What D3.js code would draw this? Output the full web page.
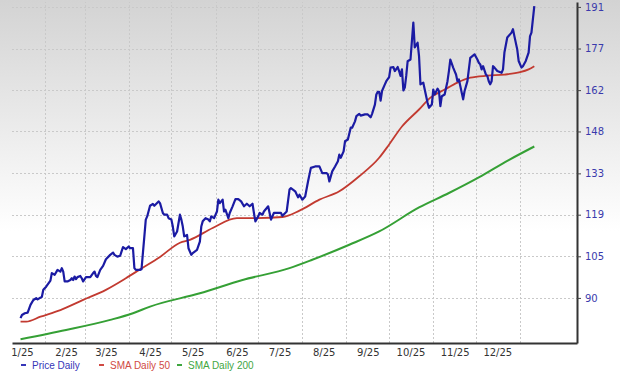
<!DOCTYPE html>
<html>
<head>
<meta charset="utf-8">
<script src="https://d3js.org/d3.v7.min.js"></script>
<style>
  body { margin: 0; background: #fff; }
  svg { display: block; }
  .grid line { stroke: #c9c9c9; stroke-dasharray: 2,2; shape-rendering: crispEdges; }
  .grid .domain { display: none; }
</style>
</head>
<body>
<div id="chart"></div>
<script>
// price, daily close
const priceDates = [
  "2025-01-15","2025-01-16","2025-01-18","2025-01-20","2025-01-22","2025-01-24","2025-01-26","2025-01-27","2025-01-30","2025-01-31",
  "2025-02-02","2025-02-05","2025-02-06","2025-02-08","2025-02-10","2025-02-12","2025-02-13","2025-02-14","2025-02-15","2025-02-17",
  "2025-02-19","2025-02-20","2025-02-21","2025-02-22","2025-02-23","2025-02-24","2025-02-26","2025-02-27","2025-02-28","2025-03-02",
  "2025-03-05","2025-03-07","2025-03-08","2025-03-09","2025-03-10","2025-03-12","2025-03-14","2025-03-16","2025-03-19","2025-03-21",
  "2025-03-22","2025-03-24","2025-03-26","2025-03-27","2025-03-28","2025-03-30","2025-04-01","2025-04-02","2025-04-04","2025-04-05",
  "2025-04-06","2025-04-09","2025-04-10","2025-04-12","2025-04-13","2025-04-14","2025-04-16","2025-04-18","2025-04-19","2025-04-22",
  "2025-04-23","2025-04-25","2025-04-26","2025-04-28","2025-04-29","2025-05-01","2025-05-02","2025-05-03","2025-05-05","2025-05-07",
  "2025-05-08","2025-05-09","2025-05-10","2025-05-12","2025-05-13","2025-05-15","2025-05-16","2025-05-19","2025-05-21","2025-05-22",
  "2025-05-23","2025-05-25","2025-05-27","2025-05-28","2025-05-29","2025-05-31","2025-06-02","2025-06-03","2025-06-04","2025-06-06",
  "2025-06-07","2025-06-08","2025-06-10","2025-06-11","2025-06-13","2025-06-15","2025-06-17","2025-06-19","2025-06-21","2025-06-23",
  "2025-06-25","2025-06-27","2025-06-28","2025-06-29","2025-07-01","2025-07-02","2025-07-04","2025-07-05","2025-07-08","2025-07-09",
  "2025-07-10","2025-07-12","2025-07-14","2025-07-17","2025-07-18","2025-07-20","2025-07-21","2025-07-23","2025-07-24","2025-07-27",
  "2025-07-29","2025-07-30","2025-08-01","2025-08-03","2025-08-05","2025-08-07","2025-08-10","2025-08-13","2025-08-15","2025-08-18",
  "2025-08-19","2025-08-20","2025-08-22","2025-08-24","2025-08-26","2025-08-27","2025-08-28","2025-08-30","2025-08-31","2025-09-02",
  "2025-09-04","2025-09-05","2025-09-07","2025-09-08","2025-09-10","2025-09-11","2025-09-14","2025-09-16","2025-09-18","2025-09-19",
  "2025-09-21","2025-09-22","2025-09-23","2025-09-24","2025-09-25","2025-09-26","2025-09-28","2025-09-29","2025-10-01","2025-10-02",
  "2025-10-04","2025-10-05","2025-10-07","2025-10-08","2025-10-09","2025-10-10","2025-10-11","2025-10-12","2025-10-13","2025-10-14",
  "2025-10-16","2025-10-18","2025-10-19","2025-10-21","2025-10-22","2025-10-23","2025-10-25","2025-10-26","2025-10-28","2025-10-29",
  "2025-10-31","2025-11-01","2025-11-02","2025-11-04","2025-11-05","2025-11-06","2025-11-07","2025-11-09","2025-11-11","2025-11-12",
  "2025-11-13","2025-11-15","2025-11-16","2025-11-17","2025-11-18","2025-11-19","2025-11-20","2025-11-22","2025-11-23","2025-11-24",
  "2025-11-25","2025-11-26","2025-11-27","2025-11-30","2025-12-02","2025-12-03","2025-12-04","2025-12-05","2025-12-06","2025-12-08",
  "2025-12-09","2025-12-10","2025-12-11","2025-12-12","2025-12-13","2025-12-14","2025-12-16","2025-12-19","2025-12-20","2025-12-21",
  "2025-12-23","2025-12-26","2025-12-27","2025-12-28","2025-12-30","2025-12-31","2026-01-02","2026-01-03","2026-01-05","2026-01-07",
  "2026-01-08","2026-01-09","2026-01-11"
];
const priceValues = [
  83.3, 84.4, 85.0, 85.2, 87.9, 89.6, 90.2, 89.8, 90.7, 93.1,
  94.2, 96.3, 98.9, 98.3, 100.0, 99.4, 100.6, 99.4, 96.0, 96.0,
  96.5, 97.1, 96.5, 97.7, 96.8, 97.5, 97.9, 97.1, 96.0, 97.5,
  97.5, 98.9, 99.4, 97.9, 97.5, 100.0, 101.4, 103.7, 105.2, 106.0,
  105.2, 104.6, 104.9, 106.4, 107.9, 107.2, 108.1, 107.5, 107.5, 100.6,
  100.0, 100.0, 100.2, 111.6, 117.4, 118.5, 122.2, 122.8, 122.2, 123.7,
  123.1, 119.7, 119.1, 119.1, 117.9, 117.4, 115.0, 111.6, 113.3, 119.1,
  117.4, 115.0, 111.6, 112.1, 107.5, 105.2, 105.8, 106.9, 109.8, 115.0,
  116.8, 117.9, 117.4, 116.8, 118.5, 117.9, 120.2, 124.3, 123.1, 124.3,
  120.2, 120.8, 117.9, 119.7, 122.0, 124.5, 124.5, 123.7, 122.0, 122.9,
  122.0, 122.9, 119.7, 116.8, 118.5, 119.7, 119.1, 120.2, 122.0, 119.7,
  117.4, 119.7, 119.7, 119.7, 118.7, 119.7, 120.2, 127.8, 128.3, 127.2,
  125.1, 126.0, 124.3, 125.4, 130.6, 135.3, 135.8, 135.8, 133.5, 133.5,
  133.0, 130.6, 134.1, 135.8, 137.6, 139.9, 138.8, 141.0, 144.5, 145.1,
  149.2, 149.2, 151.4, 153.2, 154.0, 153.4, 153.8, 153.8, 152.8, 154.0,
  157.2, 160.7, 161.6, 161.6, 158.6, 161.9, 164.2, 165.3, 166.7, 170.0,
  170.2, 168.8, 170.2, 168.8, 167.1, 169.4, 162.1, 163.1, 167.1, 172.2,
  172.8, 185.6, 177.0, 178.6, 174.0, 164.2, 164.8, 162.4, 157.8, 156.1,
  157.2, 162.4, 160.7, 162.7, 161.9, 156.7, 160.1, 160.7, 165.3, 168.8,
  172.8, 170.0, 168.8, 167.6, 165.3, 165.9, 163.6, 159.0, 161.9, 163.6,
  165.3, 169.4, 173.4, 174.6, 172.8, 171.7, 171.1, 169.4, 170.5, 167.6,
  167.1, 165.3, 164.2, 165.3, 170.5, 170.0, 168.8, 168.2, 169.4, 175.2,
  180.4, 182.1, 183.3, 180.9, 176.3, 172.3, 170.0, 170.5, 172.3, 175.2,
  180.9, 182.1, 191.3
];

// 50-day moving average
const sma50Dates = [
  "2025-01-15","2025-01-19","2025-01-29","2025-02-12","2025-02-28","2025-03-16","2025-03-30","2025-04-09","2025-04-23","2025-05-07",
  "2025-05-14","2025-05-30","2025-06-16","2025-06-30","2025-07-18","2025-07-30","2025-08-13","2025-08-27","2025-09-10","2025-09-24",
  "2025-10-01","2025-10-10","2025-10-22","2025-10-30","2025-11-09","2025-11-18","2025-11-27","2025-12-09","2025-12-21","2026-01-01",
  "2026-01-07","2026-01-11"
];
const sma50Values = [
  82.1, 82.1, 83.8, 86.1, 89.6, 93.1, 97.1, 100.2, 104.5, 109.4,
  110.4, 114.5, 117.9, 117.9, 118.3, 120.5, 124.3, 127.2, 132.4, 138.8,
  143.4, 149.6, 155.5, 159.6, 162.4, 164.8, 166.5, 167.2, 167.6, 168.4,
  169.4, 170.5
];

// 200-day moving average
const sma200Dates = [
  "2025-01-15","2025-02-16","2025-03-19","2025-04-04","2025-04-16","2025-05-21","2025-06-20","2025-07-23","2025-08-08","2025-09-03",
  "2025-09-24","2025-10-22","2025-11-12","2025-12-03","2025-12-24","2026-01-11"
];
const sma200Values = [
  76.0, 79.2, 82.7, 85.0, 87.3, 91.9, 96.5, 100.6, 103.5, 108.7,
  113.3, 121.6, 126.6, 132.0, 138.0, 142.7
];

const yTickValues = [90.3, 104.7, 119.1, 133.4, 147.9, 162.2, 176.6, 191.0];
const monthLabels = ["1/25","2/25","3/25","4/25","5/25","6/25","7/25","8/25","9/25","10/25","11/25","12/25"];
const legendItems = ["Price Daily", "SMA Daily 50", "SMA Daily 200"];
const colors = ["#1b1ba3", "#c23a30", "#35a035"];
const legendColors = ["#3636b8", "#d04a44", "#3fa63f"];

const parse = d3.timeParse("%Y-%m-%d");
const toSeries = (dates, values) => dates.map((d, i) => ({ date: parse(d), value: values[i] }));

const width = 620, height = 373;
const margin = { top: 2, right: 43, bottom: 30, left: 12 };
const innerW = width - margin.left - margin.right;
const innerH = height - margin.top - margin.bottom;

const svg = d3.select("#chart")
  .append("svg")
  .attr("width", width)
  .attr("height", height);

// background fade, grey on top to white
const grad = svg.append("defs").append("linearGradient")
  .attr("id", "bg")
  .attr("x1", 0).attr("y1", 0).attr("x2", 0).attr("y2", 1);
grad.append("stop").attr("offset", "0%").attr("stop-color", "#d3d3d3");
grad.append("stop").attr("offset", "62%").attr("stop-color", "#ffffff");
svg.append("rect")
  .attr("width", width)
  .attr("height", height)
  .attr("fill", "url(#bg)");

const chart = svg.append("g")
  .attr("transform", `translate(${margin.left},${margin.top})`);

const xScale = d3.scaleTime()
  .domain([parse("2025-01-09"), parse("2026-02-10")])
  .range([0, innerW]);

const yScale = d3.scaleLinear()
  .domain([74.7, 192.7])
  .range([innerH, 0]);

// grid
chart.append("g")
  .attr("class", "grid")
  .call(d3.axisLeft(yScale).tickValues(yTickValues).tickSize(-innerW).tickFormat(""));

const monthStarts = d3.timeMonth.range(parse("2025-02-01"), parse("2026-01-02"));
chart.append("g")
  .attr("class", "grid")
  .attr("transform", `translate(0,${innerH})`)
  .call(d3.axisBottom(xScale).tickValues(monthStarts).tickSize(-innerH).tickFormat(""));

// lines
const priceLine = d3.line()
  .x(d => xScale(d.date))
  .y(d => yScale(d.value));

const smaLine = d3.line()
  .x(d => xScale(d.date))
  .y(d => yScale(d.value))
  .curve(d3.curveMonotoneX);

const series = [
  { data: toSeries(sma200Dates, sma200Values), color: colors[2], w: 2, gen: smaLine },
  { data: toSeries(sma50Dates, sma50Values), color: colors[1], w: 1.8, gen: smaLine },
  { data: toSeries(priceDates, priceValues), color: colors[0], w: 2.2, gen: priceLine }
];

series.forEach(s => {
  chart.append("path")
    .datum(s.data)
    .style("fill", "none")
    .style("stroke", s.color)
    .style("stroke-width", s.w)
    .style("stroke-linejoin", "round")
    .attr("d", s.gen);
});

// right axis
const yAxis = chart.append("g")
  .attr("transform", `translate(${innerW},0)`)
  .call(d3.axisRight(yScale)
    .tickValues(yTickValues)
    .tickFormat(d3.format(".0f"))
    .tickSize(4)
    .tickSizeOuter(0)
    .tickPadding(4));
yAxis.select(".domain").attr("stroke", "#333").attr("stroke-width", 2);
yAxis.selectAll(".tick line").attr("stroke", "#444");
yAxis.selectAll(".tick text")
  .attr("fill", "#3a3aac")
  .style("font-family", "DejaVu Sans")
  .style("font-size", "10px");

// bottom axis with mid-month labels
const labelDates = monthLabels.map((m, i) => new Date(2025, i, 16));
const xAxis = chart.append("g")
  .attr("transform", `translate(0,${innerH})`)
  .call(d3.axisBottom(xScale)
    .tickValues(labelDates)
    .tickFormat((d, i) => monthLabels[i])
    .tickSize(0)
    .tickSizeOuter(0)
    .tickPadding(6));
xAxis.select(".domain").attr("stroke", "#333").attr("stroke-width", 2);
xAxis.selectAll(".tick text")
  .attr("fill", "#333")
  .style("font-family", "DejaVu Sans")
  .style("font-size", "10px");

// legend
const legend = svg.append("g")
  .attr("transform", `translate(21,${height - 8})`);
legendItems.forEach((name, i) => {
  const g = legend.append("g").attr("transform", `translate(${i * 78},0)`);
  g.append("line")
    .attr("x1", 0).attr("x2", 5)
    .attr("y1", 0).attr("y2", 0)
    .attr("stroke", legendColors[i])
    .attr("stroke-width", 2);
  g.append("text")
    .attr("x", 11)
    .attr("dy", "0.35em")
    .attr("fill", legendColors[i])
    .style("font-family", "Liberation Sans")
    .style("font-size", "10px")
    .text(name);
});
</script>
</body>
</html>
